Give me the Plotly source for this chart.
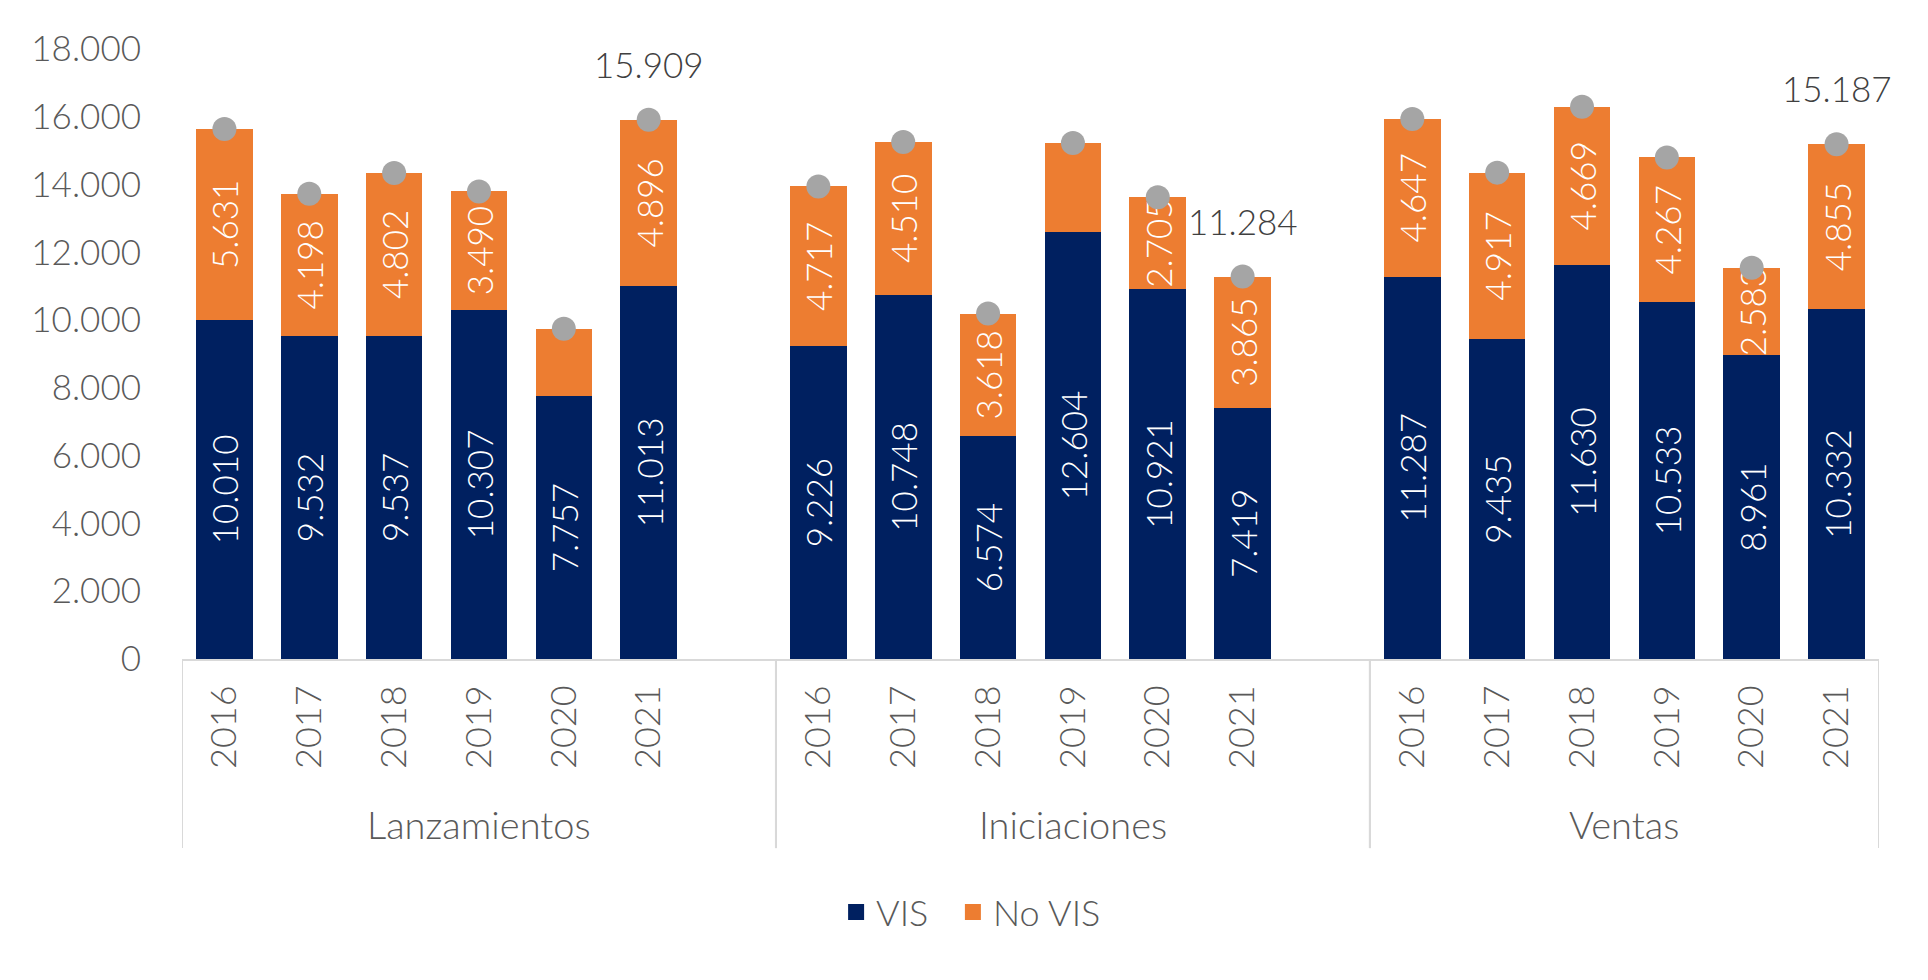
import plotly.graph_objects as go

# ---------------- data ----------------
groups = ["Lanzamientos", "Iniciaciones", "Ventas"]
years = ["2016", "2017", "2018", "2019", "2020", "2021"]

vis_lanzamientos = [10010, 9532, 9537, 10307, 7757, 11013]
novis_lanzamientos = [5631, 4198, 4802, 3490, 1990, 4896]

vis_iniciaciones = [9226, 10748, 6574, 12604, 10921, 7419]
novis_iniciaciones = [4717, 4510, 3618, 2620, 2705, 3865]

vis_ventas = [11287, 9435, 11630, 10533, 8961, 10332]
novis_ventas = [4647, 4917, 4669, 4267, 2583, 4855]

# labels that are not shown in the original
hidden_novis_labels = [("Lanzamientos", "2020"), ("Iniciaciones", "2019")]
# totals that carry a value label
labelled_totals = [("Lanzamientos", "2021"), ("Iniciaciones", "2021"), ("Ventas", "2021")]

y_ticks = [0, 2000, 4000, 6000, 8000, 10000, 12000, 14000, 16000, 18000]

# ---------------- helpers ----------------
VIS_COLOR = "#002060"
NOVIS_COLOR = "#ED7D31"
DOT_COLOR = "#A5A5A5"
TXT_COLOR = "#595959"
AXIS_COLOR = "#D9D9D9"
FONT = "Lato"
FS = 35


def fmt(v):
    return f"{v:,}".replace(",", ".")


vis_by_group = {"Lanzamientos": vis_lanzamientos, "Iniciaciones": vis_iniciaciones, "Ventas": vis_ventas}
novis_by_group = {"Lanzamientos": novis_lanzamientos, "Iniciaciones": novis_iniciaciones, "Ventas": novis_ventas}

x_cats, tick_text = [], []
x_bar, y_vis, y_novis, t_vis, t_novis, y_tot = [], [], [], [], [], []
group_span = {}
for gi, g in enumerate(groups):
    start = len(x_cats)
    for yi, yr in enumerate(years):
        key = f"{g} {yr}"
        x_cats.append(key)
        tick_text.append(yr)
        x_bar.append(key)
        v, n = vis_by_group[g][yi], novis_by_group[g][yi]
        y_vis.append(v)
        y_novis.append(n)
        y_tot.append(v + n)
        t_vis.append(fmt(v))
        t_novis.append("" if (g, yr) in hidden_novis_labels else fmt(n))
    if gi < len(groups) - 1:
        x_cats.append(f"{g} ")
        tick_text.append("")
    group_span[g] = (start - 0.5, len(x_cats) - 0.5)

fig = go.Figure()

bar_common = dict(
    textposition="inside",
    insidetextanchor="middle",
    textangle=-90,
    constraintext="none",
    textfont=dict(family=FONT, size=FS, color="white", weight=300),
    showlegend=False,
    hoverinfo="skip",
)
fig.add_trace(go.Bar(x=x_bar, y=y_vis, text=t_vis, marker=dict(color=VIS_COLOR, line=dict(width=0)),
                     name="VIS", **bar_common))
fig.add_trace(go.Bar(x=x_bar, y=y_novis, text=t_novis, marker=dict(color=NOVIS_COLOR, line=dict(width=0)),
                     name="No VIS", **bar_common))

fig.add_trace(go.Scatter(x=x_bar, y=y_tot, mode="markers",
                         marker=dict(color=DOT_COLOR, size=24, line=dict(width=0)),
                         showlegend=False, hoverinfo="skip"))

# legend entries
fig.add_trace(go.Scatter(x=[None], y=[None], mode="markers", name="VIS\u00a0\u00a0",
                         marker=dict(symbol="square", color=VIS_COLOR, size=18)))
fig.add_trace(go.Scatter(x=[None], y=[None], mode="markers", name="No VIS",
                         marker=dict(symbol="square", color=NOVIS_COLOR, size=18)))

annotations = []
for (g, yr) in labelled_totals:
    key = f"{g} {yr}"
    idx = x_bar.index(key)
    annotations.append(dict(x=key, y=y_tot[idx], xref="x", yref="y", text=fmt(y_tot[idx]),
                            showarrow=False, yshift=56,
                            font=dict(family=FONT, size=FS, color="#404040", weight=300)))

shapes = []
for g in groups:
    a, b = group_span[g]
    annotations.append(dict(x=(a + b) / 2, y=-0.27, xref="x", yref="paper", text=g, showarrow=False,
                            yanchor="middle", font=dict(family=FONT, size=38, color=TXT_COLOR, weight=300)))
    for xv in (a, b):
        shapes.append(dict(type="line", xref="x", yref="paper", x0=xv, x1=xv, y0=0, y1=-0.31,
                           line=dict(color=AXIS_COLOR, width=2)))

fig.update_layout(
    width=1928, height=980,
    margin=dict(l=182, r=49, t=49, b=321),
    barmode="stack", bargap=0.333,
    plot_bgcolor="white", paper_bgcolor="white",
    separators=",.",
    font=dict(family=FONT, size=FS, color=TXT_COLOR, weight=300),
    annotations=annotations, shapes=shapes,
    legend=dict(orientation="h", x=0.465, xanchor="center", y=-0.415, yanchor="middle",
                font=dict(family=FONT, size=36, color=TXT_COLOR, weight=300),
                itemwidth=30, traceorder="normal"),
)
fig.update_xaxes(type="category", categoryorder="array", categoryarray=x_cats,
                 tickmode="array", tickvals=x_cats, ticktext=tick_text, tickangle=-90,
                 range=[-0.5, len(x_cats) - 0.5],
                 ticks="outside", ticklen=10, tickcolor="rgba(0,0,0,0)",
                 showline=True, linecolor=AXIS_COLOR, linewidth=2, showgrid=False, zeroline=False,
                 tickfont=dict(family=FONT, size=36, color=TXT_COLOR, weight=300))
fig.update_yaxes(range=[0, 18000], tickvals=y_ticks, tickformat=",d",
                 ticks="outside", ticklen=33, tickcolor="rgba(0,0,0,0)",
                 showline=False, showgrid=False, zeroline=False,
                 tickfont=dict(family=FONT, size=35, color=TXT_COLOR, weight=300))

fig.write_html("out.html")
